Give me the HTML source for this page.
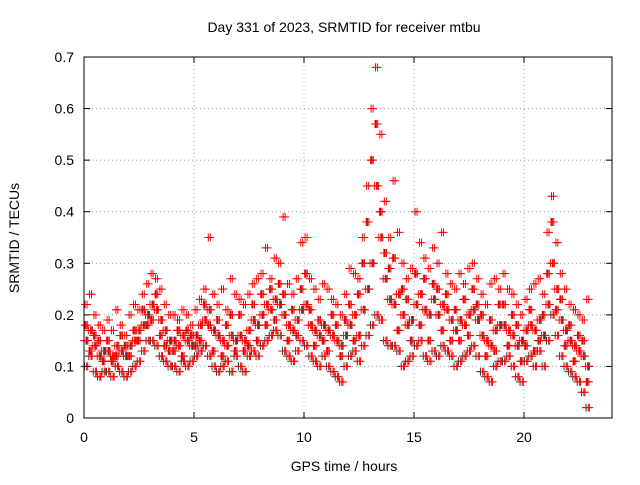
<!DOCTYPE html>
<html><head><meta charset="utf-8"><style>
html,body{margin:0;padding:0;background:#fff}
svg text{font-family:"Liberation Sans",sans-serif;font-size:14px;fill:#000}
</style></head><body>
<svg id="chart" width="640" height="480">
<text x="344" y="32" text-anchor="middle">Day 331 of 2023, SRMTID for receiver mtbu</text>
<text transform="translate(19,238) rotate(-90)" text-anchor="middle">SRMTID / TECUs</text>
<text x="344" y="471" text-anchor="middle">GPS time / hours</text>
<g id="grid"></g>
<g id="marks"></g>
<rect x="84" y="57" width="528" height="361" fill="none" stroke="#000"/>
<g id="axes"></g>
</svg>
<script>
const xTicks=[0,5,10,15,20];
const yTicks=[0,0.1,0.2,0.3,0.4,0.5,0.6,0.7];
const yTickLabels=["0","0.1","0.2","0.3","0.4","0.5","0.6","0.7"];
const startHour=0, stepHour=0.2;
const seriesMid=[.15,.17,.14,.12,.13,.13,.12,.14,.13,.12,.14,.15,.17,.18,.20,.22,.21,.19,.17,.15,.15,.14,.16,.15,.14,.16,.18,.19,.21,.17,.16,.15,.14,.16,.15,.16,.15,.17,.19,.18,.20,.22,.21,.23,.22,.20,.18,.17,.19,.21,.22,.18,.17,.16,.18,.17,.16,.15,.14,.16,.18,.20,.16,.21,.25,.30,.45,.35,.27,.23,.22,.24,.20,.18,.19,.22,.24,.21,.20,.23,.20,.22,.21,.19,.17,.19,.18,.20,.21,.19,.16,.15,.14,.17,.18,.18,.17,.16,.14,.15,.17,.18,.17,.19,.16,.22,.30,.25,.19,.17,.15,.14,.13,.12,.10];
const seriesHigh=[.22,.24,.20,.18,.17,.19,.17,.21,.18,.16,.20,.22,.21,.24,.26,.28,.27,.25,.22,.20,.20,.19,.21,.20,.18,.21,.23,.25,.35,.24,.22,.25,.21,.27,.24,.23,.22,.24,.26,.27,.28,.33,.27,.31,.30,.39,.26,.24,.27,.34,.35,.27,.25,.23,.26,.25,.23,.22,.20,.24,.29,.28,.27,.35,.45,.60,.68,.55,.42,.35,.46,.36,.30,.27,.29,.40,.34,.31,.29,.33,.30,.36,.28,.26,.25,.28,.26,.29,.30,.27,.24,.22,.26,.27,.25,.28,.25,.24,.22,.20,.23,.25,.26,.27,.24,.36,.43,.34,.28,.25,.22,.21,.20,.19,.23];
const seriesLow=[.10,.12,.09,.08,.09,.09,.08,.10,.09,.08,.09,.10,.11,.13,.15,.15,.14,.12,.11,.10,.10,.09,.11,.10,.11,.12,.13,.14,.12,.10,.09,.10,.11,.09,.12,.10,.09,.12,.13,.12,.14,.15,.16,.17,.16,.13,.12,.11,.13,.15,.14,.12,.11,.10,.12,.10,.09,.08,.07,.10,.12,.13,.11,.14,.16,.18,.20,.19,.15,.14,.14,.13,.10,.11,.12,.14,.15,.12,.11,.13,.12,.14,.13,.12,.10,.11,.12,.13,.14,.12,.09,.08,.07,.10,.11,.11,.12,.10,.08,.07,.11,.12,.10,.13,.10,.15,.20,.16,.12,.10,.09,.08,.07,.05,.02];
const seriesMid2=[.18,.13,.16,.15,.11,.15,.11,.12,.16,.14,.12,.17,.15,.21,.18,.19,.24,.16,.14,.13,.13,.17,.12,.17,.16,.14,.15,.22,.18,.13,.19,.12,.18,.20,.13,.20,.13,.14,.22,.15,.24,.18,.25,.19,.26,.24,.15,.21,.16,.25,.28,.21,.14,.19,.15,.13,.20,.18,.12,.19,.22,.15,.24,.30,.38,.50,.57,.40,.32,.29,.31,.17,.25,.23,.15,.28,.18,.27,.15,.26,.25,.17,.24,.15,.21,.15,.23,.16,.25,.22,.20,.12,.19,.13,.22,.22,.14,.20,.18,.11,.14,.21,.13,.15,.20,.28,.38,.21,.23,.14,.18,.11,.16,.15,.07];
const NS="http://www.w3.org/2000/svg";
const X0=84,X1=612,Y0=418,Y1=57;
function xs(h){return X0+h*22;}
function ys(v){return Y0-(v/0.7)*(Y0-Y1);}
const grid=document.getElementById('grid'),axes=document.getElementById('axes'),marks=document.getElementById('marks');
function mk(tag,attrs,parent){const e=document.createElementNS(NS,tag);for(const k in attrs)e.setAttribute(k,attrs[k]);parent.appendChild(e);return e;}
yTicks.forEach((v,i)=>{const y=ys(v);
 if(i>0&&i<yTicks.length-1){const g=mk('line',{x1:X0,x2:X1,y1:y,y2:y,stroke:'#a0a0a0','stroke-dasharray':'1,3'},grid);
 
 }
 mk('line',{x1:X0,x2:X0+6,y1:y,y2:y,stroke:'#000'},axes);
 mk('line',{x1:X1,x2:X1-6,y1:y,y2:y,stroke:'#000'},axes);
 const t=mk('text',{x:X0-10,y:y+5,'text-anchor':'end'},axes);t.textContent=yTickLabels[i];
 
 
});
xTicks.forEach((h,i)=>{const x=xs(h);
 if(i>0){const g=mk('line',{x1:x,x2:x,y1:Y0,y2:Y1,stroke:'#a0a0a0','stroke-dasharray':'1,3'},grid);
 
 }
 mk('line',{x1:x,x2:x,y1:Y0,y2:Y0-6,stroke:'#000'},axes);
 mk('line',{x1:x,x2:x,y1:Y1,y2:Y1+6,stroke:'#000'},axes);
 const t=mk('text',{x:x,y:Y0+24,'text-anchor':'middle'},axes);t.textContent=String(h);
 
 
});
const all=[[seriesLow,0.02,'#333'],[seriesMid,0.13,'#333'],[seriesMid2,0.06,'#333'],
 [seriesMid,0,'#f00'],[seriesHigh,0.05,'#f00'],[seriesLow,0.12,'#f00'],[seriesMid2,0.15,'#f00'],
 [seriesMid2,0.03,'#f00'],[seriesMid,0.09,'#f00'],[seriesLow,0.17,'#f00'],[seriesHigh,0.14,'#f00'],[seriesMid,0.18,'#f00'],[seriesMid2,0.09,'#f00']];
all.forEach(([arr,off,col])=>{arr.forEach((v,i)=>{
 const x=xs(startHour+i*stepHour+off),y=ys(v);
 const p=mk('path',{d:`M${x-4},${y}H${x+4}M${x},${y-4}V${y+4}`,stroke:col,'stroke-width':1,fill:'none'},marks);
 
 
});});
</script>
</body></html>
